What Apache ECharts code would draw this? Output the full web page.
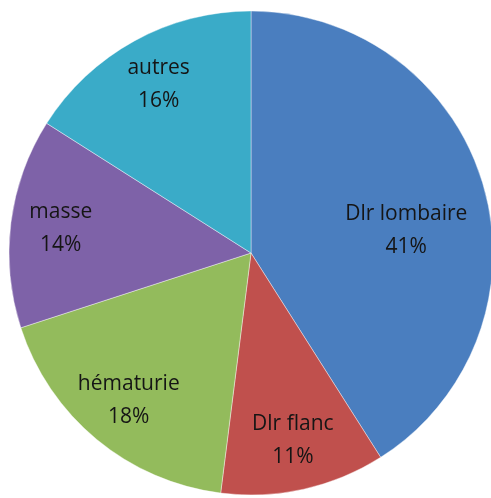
<!DOCTYPE html>
<html>
<head>
<meta charset="utf-8">
<script src="https://cdn.jsdelivr.net/npm/echarts@6/dist/echarts.min.js"></script>
<style>
html,body{margin:0;padding:0;background:#fff;}
#chart{width:491px;height:498px;}
</style>
</head>
<body>
<div id="chart"></div>
<script>
var categories = ['Dlr lombaire', 'Dlr flanc', 'hématurie', 'masse', 'autres'];
var values = [41, 11, 18, 14, 16];
var colors = ['#4A7EBF', '#C0504D', '#93BB5C', '#7E62A8', '#3AABC8'];

var chart = echarts.init(document.getElementById('chart'));
var center = [251, 253];
var R = 242;

function baseData() {
  return categories.map(function (c, i) {
    return { name: c, value: values[i], itemStyle: { color: colors[i] } };
  });
}
function labelData(onlyFirst) {
  return categories.map(function (c, i) {
    var show = onlyFirst ? i === 0 : i !== 0;
    return { name: c, value: values[i], label: { show: show } };
  });
}
var labelStyle = {
  position: 'inside',
  formatter: function (p) { return p.name + '\n' + Math.round(p.percent) + '%'; },
  fontFamily: 'Open Sans',
  fontSize: 21,
  lineHeight: 33,
  color: '#151515'
};

chart.setOption({
  animation: false,
  series: [
    {
      type: 'pie', center: center, radius: [0, R], startAngle: 90, clockwise: true,
      label: { show: false }, labelLine: { show: false }, silent: true,
      itemStyle: { borderColor: 'rgba(255,255,255,0.5)', borderWidth: 0.8 },
      data: baseData()
    },
    {
      type: 'pie', center: center, radius: [R * 0.58, R * 0.98], startAngle: 90, clockwise: true,
      itemStyle: { color: 'rgba(0,0,0,0)' }, silent: true, labelLine: { show: false },
      label: labelStyle,
      data: labelData(false)
    },
    {
      type: 'pie', center: center, radius: [R * 0.36, R * 0.9], startAngle: 90, clockwise: true,
      itemStyle: { color: 'rgba(0,0,0,0)' }, silent: true, labelLine: { show: false },
      label: labelStyle,
      labelLayout: function () { return { dx: 6, dy: 21 }; },
      data: labelData(true)
    }
  ]
});
</script>
</body>
</html>
